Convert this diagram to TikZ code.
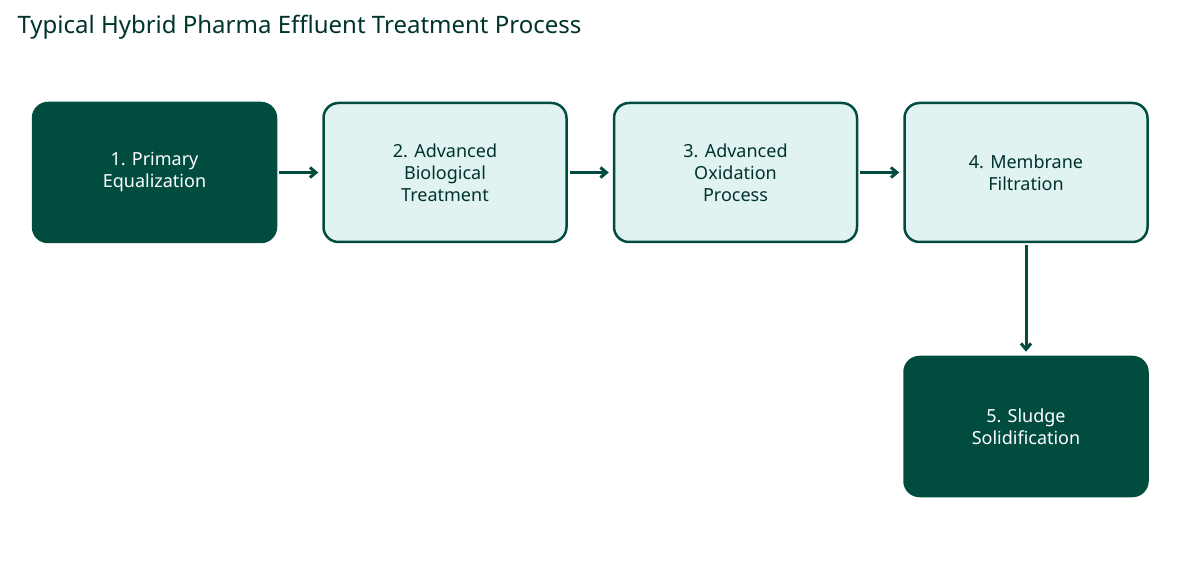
\documentclass[tikz,border=0pt]{standalone}
\usepackage{fontspec}
\setmainfont{Noto Sans}
\usetikzlibrary{arrows.meta}
\definecolor{dk}{HTML}{004D40}
\definecolor{lt}{HTML}{E0F2F1}
\definecolor{tx}{HTML}{00332B}
\begin{document}
\begin{tikzpicture}[x=1pt,y=-1pt,
 box/.style={rounded corners=15pt,line width=2.5pt,draw=dk,minimum width=243pt,minimum height=139pt,align=center,font=\fontsize{18}{22}\selectfont\bfseries},
 dark/.style={box,fill=dk,text=white},
 light/.style={box,fill=lt,text=tx},
 arr/.style={-{Straight Barb[length=6pt,width=10pt]},line width=3pt,draw=dk}]
\useasboundingbox (0,0) rectangle (1192,569);
\node[anchor=west,text=tx,font=\fontsize{24}{28}\selectfont\bfseries] (t) at (14,27) {Typical Hybrid Pharma Effluent Treatment Process};
\node[dark] (a) at (154.5,172.5) {1. Primary\\Equalization};
\node[light] (b) at (445,172.5) {2. Advanced\\Biological\\Treatment};
\node[light] (c) at (735.5,172.5) {3. Advanced\\Oxidation\\Process};
\node[light] (d) at (1026,172.5) {4. Membrane\\Filtration};
\node[dark] (e) at (1026,426.5) {5. Sludge\\Solidification};
\draw[arr] (a.east)++(2,0) -- ([xshift=-4pt]b.west);
\draw[arr] (b.east)++(2,0) -- ([xshift=-4pt]c.west);
\draw[arr] (c.east)++(2,0) -- ([xshift=-4pt]d.west);
\draw[arr] (d.south)++(0,2) -- ([yshift=4pt]e.north);
\end{tikzpicture}
\end{document}
